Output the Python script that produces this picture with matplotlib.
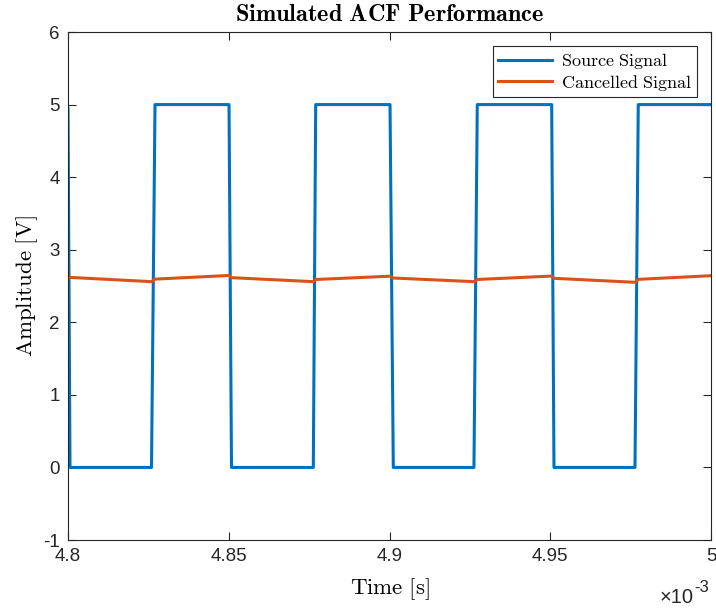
import numpy as np
import matplotlib.pyplot as plt
from matplotlib.ticker import FuncFormatter

plt.rcParams["mathtext.fontset"] = "cm"
plt.rcParams["axes.unicode_minus"] = False
plt.rcParams["font.family"] = ["Liberation Sans", "DejaVu Sans"]

# time in units of 1e-3 s
t_src = [4.8, 4.80062, 4.82597, 4.82706, 4.85008, 4.85085, 4.87630, 4.87704,
         4.90016, 4.90118, 4.92627, 4.92730, 4.95045, 4.95116, 4.97636, 4.97738, 5.0]
v_src = [4.95, 0, 0, 5, 5, 0, 0, 5, 5, 0, 0, 5, 5, 0, 0, 5, 5]

t_can = [4.8, 4.82597, 4.82706, 4.85008, 4.85085, 4.87630, 4.87704, 4.90016,
         4.90118, 4.92627, 4.92730, 4.95045, 4.95116, 4.97636, 4.97738, 5.0]
v_can = [2.62, 2.56, 2.595, 2.645, 2.615, 2.56, 2.59, 2.635,
         2.61, 2.56, 2.59, 2.637, 2.606, 2.551, 2.592, 2.642]

fig = plt.figure(figsize=(7.16, 6.11), dpi=100)
ax = fig.add_axes([0.095, 0.1162, 0.898, 0.8314])

ax.plot(t_src, v_src, color="#0072BD", lw=2.2, label=r"$\mathrm{Source\ Signal}$")
ax.plot(t_can, v_can, color="#D95319", lw=2.2, label=r"$\mathrm{Cancelled\ Signal}$")

ax.set_xlim(4.8, 5.0)
ax.set_ylim(-1, 6)
ax.set_xticks([4.8, 4.85, 4.9, 4.95, 5.0])
ax.set_yticks(range(-1, 7))
ax.xaxis.set_major_formatter(FuncFormatter(lambda v, p: "%g" % round(v, 4)))

ax.tick_params(direction="in", top=True, right=True, length=6, width=0.8,
               colors="#262626", labelsize=13.5, pad=6)
for s in ax.spines.values():
    s.set_color("#262626")
    s.set_linewidth(0.8)

ax.set_title(r"$\mathbf{Simulated\ ACF\ Performance}$", fontsize=17.5, pad=8)
ax.set_xlabel(r"$\mathrm{Time\ [s]}$", fontsize=16.5, labelpad=8)
ax.set_ylabel(r"$\mathrm{Amplitude\ [V]}$", fontsize=16.5, labelpad=2)

# exponent label, MATLAB style
fig.text(694 / 716, 1 - 603 / 611, "\u00d710", ha="right", va="baseline",
         fontsize=14.5, color="#262626")
fig.text(694 / 716, 1 - 592 / 611, "-3", ha="left", va="baseline",
         fontsize=12, color="#262626")

leg = ax.legend(loc="upper right", fontsize=13, fancybox=False, framealpha=1,
                edgecolor="#262626", borderaxespad=0.8, handlelength=3.0,
                borderpad=0.25, labelspacing=0.1, handletextpad=0.5)
leg.get_frame().set_linewidth(0.8)

fig.savefig("out.png", dpi=100)
